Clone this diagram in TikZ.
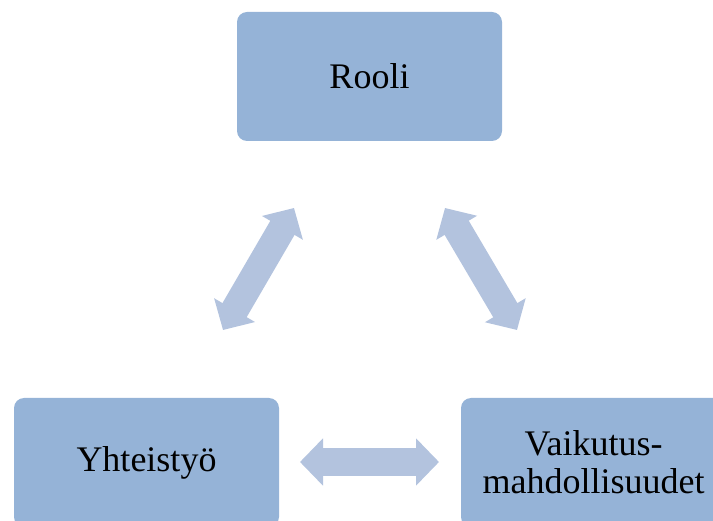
\documentclass[tikz,border=0pt]{standalone}
\usepackage{fontspec}
\setmainfont{Liberation Serif}
\usetikzlibrary{arrows.meta}

\definecolor{boxblue}{RGB}{149,179,215}
\definecolor{arrowblue}{RGB}{179,195,222}

\begin{document}
\begin{tikzpicture}[x=1pt, y=-1pt,
  topic/.style={fill=boxblue, rounded corners=10pt, minimum width=265pt,
    minimum height=129pt, inner sep=0pt, align=center,
    font=\fontsize{36}{38}\selectfont},
  link/.style={arrowblue, line width=28pt,
    {Triangle[width=46pt,length=23pt]}-{Triangle[width=46pt,length=23pt]}}]

	% Canvas
	\path[use as bounding box] (0,0) rectangle (713,521);
	\clip (0,0) rectangle (713,521);

	% Boxes
	\node[topic] (rooli) at (369.5, 76.5) {Rooli};
	\node[topic] (yhteistyo) at (146.5, 462.5) {Yhteistyö};
	\node[topic] (vaikutus) at (593.5, 462.5) {Vaikutus-\\mahdollisuudet};

	% Arrow ends
	\coordinate (left low) at (223, 330);
	\coordinate (left high) at (294, 208);
	\coordinate (right high) at (445, 208);
	\coordinate (right low) at (517, 330);
	\coordinate (mid left) at (300, 462);
	\coordinate (mid right) at (439, 462);

	% Arrows
	\draw[link] (left low) -- (left high);
	\draw[link] (right high) -- (right low);
	\draw[link] (mid left) -- (mid right);

\end{tikzpicture}
\end{document}
